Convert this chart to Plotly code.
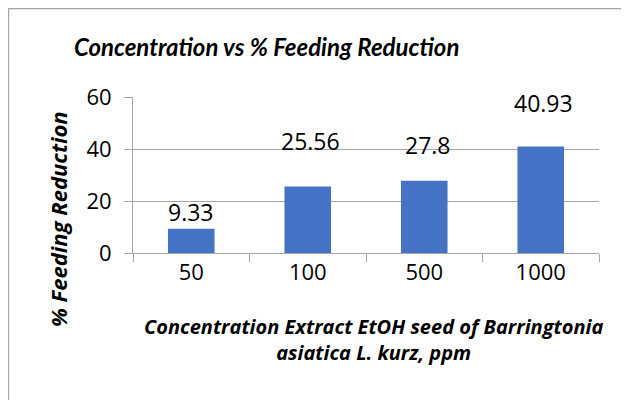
import plotly.graph_objects as go

categories = ["50", "100", "500", "1000"]
feeding_reduction = [9.33, 25.56, 27.8, 40.93]
value_labels = ["9.33", "25.56", "27.8", "40.93"]
y_ticks = [0, 20, 40, 60]

# pixel offsets of the data labels above the bar tops (as in the reference)
label_yshift = [17, 46, 36, 44]
label_xshift = [0, 3, 4, 3]

FONT = "Open Sans"
TITLE_FONT = "Lato"
OFF = 8  # page body margin: figure is drawn 8px from the window edge
W, H = 629, 400
# plot area in window pixels: x 133..599, y 97..253
L = 133 - OFF
T = 97 - OFF
R = W - (599 - OFF)
B = H - (253 - OFF)
pw, ph = W - L - R, H - T - B

def px_x(px):
    return (px - OFF - L) / pw

def px_y(py):
    return (H - B - (py - OFF)) / ph

fig = go.Figure()
fig.add_trace(go.Bar(
    x=categories, y=feeding_reduction, width=0.4,
    marker=dict(color="#4472C4", line=dict(width=0)),
    hoverinfo="skip",
))

annotations = []
for i, (v, t, dy, dx) in enumerate(zip(feeding_reduction, value_labels, label_yshift, label_xshift)):
    annotations.append(dict(x=i, y=v, text=t, showarrow=False, xref="x", yref="y",
                            yanchor="middle", xanchor="center", yshift=dy, xshift=dx,
                            font=dict(family=FONT, size=23, color="#000000")))

annotations.append(dict(text="Concentration vs % Feeding Reduction", showarrow=False,
                        xref="paper", yref="paper", x=px_x(266), y=px_y(46),
                        xanchor="center", yanchor="middle",
                        font=dict(family=TITLE_FONT, size=24, color="#000000", style="italic", weight="bold")))
annotations.append(dict(text="% Feeding Reduction", showarrow=False, textangle=-90,
                        xref="paper", yref="paper", x=px_x(58), y=px_y(219),
                        xanchor="center", yanchor="middle",
                        font=dict(family=FONT, size=22, color="#000000", style="italic", weight="bold")))
annotations.append(dict(text="Concentration Extract EtOH seed of Barringtonia<br>asiatica L. kurz, ppm",
                        showarrow=False, xref="paper", yref="paper", x=px_x(373), y=px_y(339),
                        xanchor="center", yanchor="middle", align="center",
                        font=dict(family=FONT, size=20, color="#000000", style="italic", weight="bold")))

fig.update_layout(
    width=W, height=H,
    margin=dict(l=L, r=R, t=T, b=B, pad=0),
    paper_bgcolor="#FFFFFF", plot_bgcolor="#FFFFFF",
    showlegend=False,
    annotations=annotations,
    shapes=[dict(type="rect", xref="paper", yref="paper",
                 x0=px_x(8.6), x1=px_x(700), y0=px_y(460), y1=px_y(8.6),
                 line=dict(color="#A6A6A6", width=1.2), fillcolor="rgba(0,0,0,0)", layer="below")],
    xaxis=dict(type="category", range=[-0.5, 3.5], showline=True, linecolor="#A6A6A6", linewidth=1,
               ticks="outside", tickson="boundaries", ticklen=8, tickcolor="#A6A6A6",
               showgrid=False, tickfont=dict(family=FONT, size=22, color="#000000"),
               tickangle=0, fixedrange=True),
    yaxis=dict(range=[0, 60], tickvals=y_ticks, showline=True, linecolor="#A6A6A6", linewidth=1,
               ticks="outside", ticklen=8, tickcolor="#A6A6A6",
               showgrid=True, gridcolor="#A6A6A6", gridwidth=1, zeroline=False,
               tickfont=dict(family=FONT, size=22, color="#000000"), ticklabelstandoff=8,
               fixedrange=True),
)

fig.write_html("out.html")
